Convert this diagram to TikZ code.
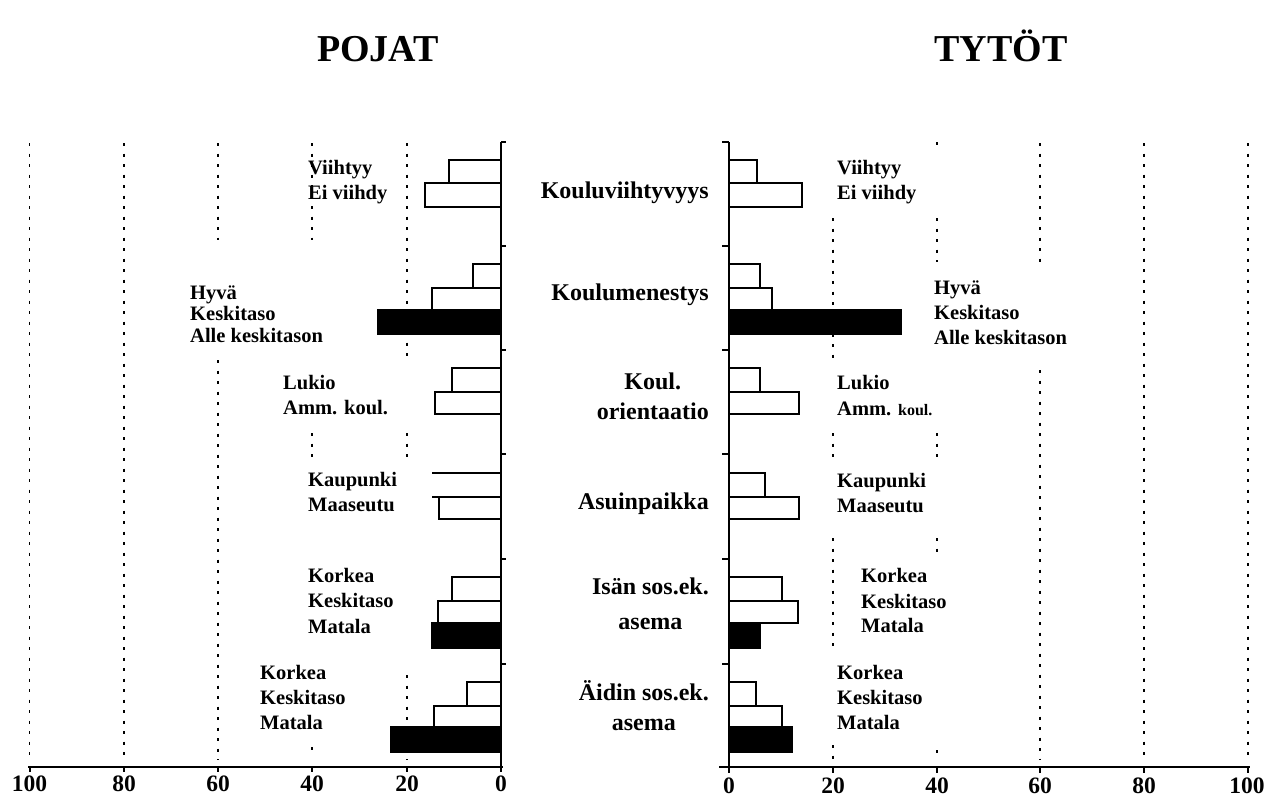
\documentclass[tikz,border=0pt]{standalone}
\usepackage{fontspec}
\setmainfont{Liberation Serif}
\begin{document}
\begin{tikzpicture}[x=1pt,y=-1pt,
  grid/.style={line width=1.9pt, dash pattern=on 3pt off 7.5pt},
  axisline/.style={line width=2pt},
  bar/.style={draw=black, line width=1.7pt, fill=white},
  blackbar/.style={draw=black, line width=1.7pt, fill=black},
  title/.style={font=\fontsize{38}{44}\selectfont\bfseries, anchor=base, inner sep=0},
  vlab/.style={font=\fontsize{20.5}{24}\selectfont\bfseries, anchor=base west, inner sep=0, yshift=-7pt},
  cat/.style={font=\fontsize{24}{28}\selectfont\bfseries, anchor=base east, inner sep=0, yshift=-7.8pt},
  catc/.style={font=\fontsize{24}{28}\selectfont\bfseries, anchor=base, inner sep=0},
  tick/.style={font=\fontsize{23.5}{28}\selectfont\bfseries, anchor=base, inner sep=0, yshift=-8pt}
]
\useasboundingbox (0,0) rectangle (1276,807);

% titles
\node[title] (pojat) at (378,61) {POJAT};
\node[title] (tytot) at (1001,61) {TYTÖT};

% ---------- left gridlines ----------
\draw[grid] (29.5,143) -- (29.5,760);
\draw[grid] (124,143) -- (124,760);
\draw[grid] (218,143) -- (218,240);
\draw[grid] (218,360) -- (218,760);
\draw[grid] (312,143) -- (312,240);
\draw[grid] (312,433) -- (312,457);
\draw[grid] (312,747) -- (312,757);
\draw[grid] (407,143) -- (407,360);
\draw[grid] (407,433) -- (407,458);
\draw[grid] (407,675) -- (407,760);

% ---------- right gridlines ----------
\draw[grid] (833,218) -- (833,362);
\draw[grid] (833,433) -- (833,458);
\draw[grid] (833,538) -- (833,650);
\draw[grid] (833,745) -- (833,760);
\draw[grid] (937,142) -- (937,146);
\draw[grid] (937,218) -- (937,262);
\draw[grid] (937,433) -- (937,458);
\draw[grid] (937,538) -- (937,553);
\draw[grid] (937,750) -- (937,760);
\draw[grid] (1040,143) -- (1040,263);
\draw[grid] (1040,370) -- (1040,760);
\draw[grid] (1144,143) -- (1144,760);
\draw[grid] (1248,143) -- (1248,760);

% ---------- left bars ----------
\draw[bar] (449,160) rectangle (501,183);
\draw[bar] (425,183) rectangle (501,207);
\draw[bar] (473,264) rectangle (501,288);
\draw[bar] (432,288) rectangle (501,310);
\draw[blackbar] (378,310) rectangle (501,334);
\draw[bar] (452,368) rectangle (501,392);
\draw[bar] (435,392) rectangle (501,414);
\draw[line width=1.7pt] (432,473) -- (501,473);
\draw[line width=1.7pt] (432,497) -- (501,497);
\draw[bar] (439,497) rectangle (501,519);
\draw[bar] (452,577) rectangle (501,601);
\draw[bar] (438,601) rectangle (501,623);
\draw[blackbar] (432,623) rectangle (501,648);
\draw[bar] (467,682) rectangle (501,706);
\draw[bar] (434,706) rectangle (501,727);
\draw[blackbar] (391,727) rectangle (501,752);

% ---------- right bars ----------
\draw[bar] (729,160) rectangle (757,183);
\draw[bar] (729,183) rectangle (802,207);
\draw[bar] (729,264) rectangle (760,288);
\draw[bar] (729,288) rectangle (772,310);
\draw[blackbar] (729,310) rectangle (901,334);
\draw[bar] (729,368) rectangle (760,392);
\draw[bar] (729,392) rectangle (799,414);
\draw[bar] (729,473) rectangle (765,497);
\draw[bar] (729,497) rectangle (799,519);
\draw[bar] (729,577) rectangle (782,601);
\draw[bar] (729,601) rectangle (798,623);
\draw[blackbar] (729,623) rectangle (760,648);
\draw[bar] (729,682) rectangle (756,706);
\draw[bar] (729,706) rectangle (782,727);
\draw[blackbar] (729,727) rectangle (792,752);

% ---------- axes ----------
\draw[axisline] (501,142) -- (501,767);
\foreach \yy in {142,246,350,454,559,664} \draw[axisline] (501,\yy) -- (506,\yy);
\draw[axisline] (28,767) -- (503,767);
\foreach \xx in {29.5,124,218,312,407,501} \draw[axisline] (\xx,767) -- (\xx,772);

\draw[axisline] (729,142) -- (729,767);
\foreach \yy in {142,246,350,454,559,664} \draw[axisline] (729,\yy) -- (722,\yy);
\draw[axisline] (719,767) -- (1250,767);
\foreach \xx in {729,833,937,1040,1144,1248} \draw[axisline] (\xx,767) -- (\xx,773);

% ---------- tick labels ----------
\node[tick] (l100) at (29.5,783) {100};
\node[tick] (l80) at (124,783) {80};
\node[tick] (l60) at (218,783) {60};
\node[tick] (l40) at (312,783) {40};
\node[tick] (l20) at (407,783) {20};
\node[tick] (l0) at (501,783) {0};
\node[tick] (r0) at (729,785) {0};
\node[tick] (r20) at (833,785) {20};
\node[tick] (r40) at (937,785) {40};
\node[tick] (r60) at (1040,785) {60};
\node[tick] (r80) at (1144,785) {80};
\node[tick] (r100) at (1247,785) {100};

% ---------- left value labels ----------
\node[vlab] (a1) at (308,167) {Viihtyy};
\node[vlab] (a2) at (308,192) {Ei viihdy};
\node[vlab] (b1) at (190,292) {Hyvä};
\node[vlab] (b2) at (190,313) {Keskitaso};
\node[vlab] (b3) at (190,335) {Alle keskitason};
\node[vlab] (c1) at (283,382) {Lukio};
\node[vlab] (c2) at (283,407) {Amm. koul.};
\node[vlab] (d1) at (308,479) {Kaupunki};
\node[vlab] (d2) at (308,504) {Maaseutu};
\node[vlab] (e1) at (308,575) {Korkea};
\node[vlab] (e2) at (308,600) {Keskitaso};
\node[vlab] (e3) at (308,626) {Matala};
\node[vlab] (f1) at (260,672) {Korkea};
\node[vlab] (f2) at (260,697) {Keskitaso};
\node[vlab] (f3) at (260,722) {Matala};

% ---------- right value labels ----------
\node[vlab] (ra1) at (837,167) {Viihtyy};
\node[vlab] (ra2) at (837,192) {Ei viihdy};
\node[vlab] (rb1) at (934,287) {Hyvä};
\node[vlab] (rb2) at (934,312) {Keskitaso};
\node[vlab] (rb3) at (934,337) {Alle keskitason};
\node[vlab] (rc1) at (837,382) {Lukio};
\node[vlab] (rc2) at (837,408) {Amm. {\fontsize{16}{20}\selectfont koul.}};
\node[vlab] (rd1) at (837,480) {Kaupunki};
\node[vlab] (rd2) at (837,505) {Maaseutu};
\node[vlab] (re1) at (861,575) {Korkea};
\node[vlab] (re2) at (861,601) {Keskitaso};
\node[vlab] (re3) at (861,625) {Matala};
\node[vlab] (rf1) at (837,672) {Korkea};
\node[vlab] (rf2) at (837,697) {Keskitaso};
\node[vlab] (rf3) at (837,722) {Matala};

% ---------- category labels ----------
\node[cat] (k1) at (709,191) {Kouluviihtyvyys};
\node[cat] (k2) at (709,293) {Koulumenestys};
\node[cat] (k3b) at (709,412) {orientaatio};
\node[catc] (k3a) at ([yshift=30pt]k3b.base) {Koul.};
\node[cat] (k4) at (709,502) {Asuinpaikka};
\node[cat] (k5a) at (709,587) {Isän sos.ek.};
\node[catc] (k5b) at ([yshift=-35pt]k5a.base) {asema};
\node[cat] (k6a) at (709,693) {Äidin sos.ek.};
\node[catc] (k6b) at ([yshift=-30pt]k6a.base) {asema};
\end{tikzpicture}
\end{document}
